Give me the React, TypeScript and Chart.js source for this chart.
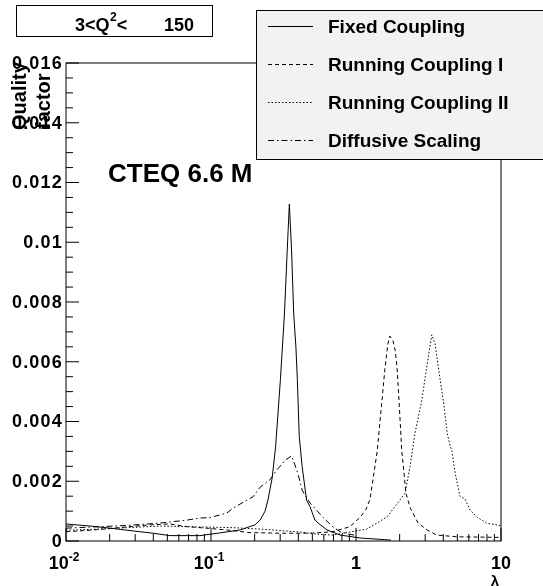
import React, { useEffect, useRef } from 'react';
import { Chart, registerables } from 'chart.js';

Chart.register(...registerables);

const W = 543;
const H = 586;
const FONT = '"Liberation Sans", Arial, Helvetica, sans-serif';

// ---- data (lambda, quality factor) ----
const fixedLambda = [0.01, 0.0147, 0.0201, 0.0299, 0.0398, 0.0521, 0.0839, 0.115, 0.159, 0.201, 0.218, 0.236, 0.247, 0.264, 0.279, 0.301, 0.321, 0.336, 0.347, 0.359, 0.372, 0.385, 0.394, 0.406, 0.425, 0.456, 0.482, 0.521, 0.565, 0.631, 0.776, 1.07, 1.74];
const fixedQ = [0.00057, 0.0005, 0.00043, 0.00033, 0.00026, 0.00018, 0.00018, 0.00027, 0.00037, 0.00054, 0.0007, 0.001, 0.00137, 0.0021, 0.00316, 0.0054, 0.0076, 0.0098, 0.01128, 0.0098, 0.0076, 0.0065, 0.0054, 0.0035, 0.0025, 0.00137, 0.00115, 0.0007, 0.00055, 0.00037, 0.0002, 0.0001, 0.00003];

const rc1Lambda = [0.01, 0.0147, 0.0201, 0.0276, 0.0379, 0.0521, 0.0683, 0.0984, 0.135, 0.186, 0.299, 0.482, 0.693, 0.909, 1.07, 1.17, 1.25, 1.40, 1.51, 1.585, 1.66, 1.71, 1.80, 1.86, 1.92, 1.98, 2.07, 2.14, 2.21, 2.37, 2.68, 3.09, 3.6, 4.97, 7.2, 10];
const rc1Q = [0.00031, 0.00036, 0.00042, 0.00048, 0.00054, 0.00057, 0.00048, 0.00042, 0.00036, 0.00028, 0.00026, 0.00026, 0.00031, 0.00048, 0.0008, 0.00105, 0.0014, 0.003, 0.0047, 0.0058, 0.0066, 0.00686, 0.0067, 0.0064, 0.0058, 0.0047, 0.003, 0.0023, 0.0016, 0.0011, 0.0006, 0.00037, 0.0002, 0.00014, 0.00013, 0.00012];

const rc2Lambda = [0.01, 0.0171, 0.0276, 0.0445, 0.0839, 0.135, 0.218, 0.411, 0.565, 0.693, 0.909, 1.19, 1.63, 1.89, 2.18, 2.36, 2.55, 2.84, 3.07, 3.33, 3.51, 3.70, 4.00, 4.26, 4.45, 4.59, 4.82, 5.21, 5.65, 6.11, 6.82, 8.0, 9.38, 10];
const rc2Q = [0.00036, 0.0004, 0.00045, 0.0005, 0.00047, 0.00045, 0.0004, 0.0003, 0.00022, 0.0002, 0.0003, 0.0004, 0.0008, 0.0012, 0.0016, 0.0025, 0.0036, 0.0047, 0.0058, 0.0069, 0.0066, 0.0058, 0.0047, 0.0036, 0.0032, 0.003, 0.0023, 0.0015, 0.0014, 0.00104, 0.0008, 0.00059, 0.00054, 0.0005];

const dsLambda = [0.01, 0.0171, 0.0264, 0.0445, 0.0683, 0.0839, 0.0984, 0.129, 0.142, 0.177, 0.195, 0.218, 0.255, 0.285, 0.324, 0.360, 0.390, 0.411, 0.425, 0.482, 0.591, 0.693, 0.776, 0.909, 0.97];
const dsQ = [0.00043, 0.00048, 0.00052, 0.0006, 0.0007, 0.00077, 0.00078, 0.00094, 0.0011, 0.00137, 0.00148, 0.0018, 0.00205, 0.00238, 0.0027, 0.00285, 0.00238, 0.002, 0.0017, 0.00127, 0.0008, 0.00047, 0.00031, 0.00022, 0.0002];

const seriesNames = ['Fixed Coupling', 'Running Coupling I', 'Running Coupling II', 'Diffusive Scaling'];
const seriesDashes = [[], [4, 3], [1.5, 2], [6, 3, 1.5, 3]];

const xMajorTicks = [0.01, 0.1, 1, 10];
const xMajorLabels = [['10', '-2'], ['10', '-1'], ['1', ''], ['10', '']];
const yTickValues = [0, 0.002, 0.004, 0.006, 0.008, 0.01, 0.012, 0.014, 0.016];
const yTickLabels = ['0', '0.002', '0.004', '0.006', '0.008', '0.01', '0.012', '0.014', '0.016'];
const yMin = 0;
const yMax = 0.016;
const yMinorStep = 0.0005;

const titleParts = ['3<Q', '2', '<', '150'];
const yTitleLines = ['Quality', 'factor'];
const pdfLabel = 'CTEQ 6.6 M';
const xTitle = 'λ';

const toPoints = (xs: number[], ys: number[]) => xs.map((x, i) => ({ x, y: ys[i] }));

const decorPlugin = {
  id: 'rootDecor',
  afterDraw(chart: any) {
    const ctx = chart.ctx as CanvasRenderingContext2D;
    const { left, right, top, bottom } = chart.chartArea;
    const xs = chart.scales.x;
    const ys = chart.scales.y;
    ctx.save();
    ctx.strokeStyle = '#000';
    ctx.fillStyle = '#000';
    ctx.lineWidth = 1;
    ctx.setLineDash([]);

    // frame
    ctx.strokeRect(left, top, right - left, bottom - top);

    // y ticks (inside)
    const nMinor = Math.round((yMax - yMin) / yMinorStep);
    for (let i = 0; i <= nMinor; i++) {
      const v = yMin + i * yMinorStep;
      const py = ys.getPixelForValue(v);
      const len = i % 4 === 0 ? 13 : 7;
      ctx.beginPath();
      ctx.moveTo(left, py);
      ctx.lineTo(left + len, py);
      ctx.stroke();
    }

    // y labels
    ctx.font = `bold 18px ${FONT}`;
    (ctx as any).letterSpacing = '1.2px';
    ctx.textAlign = 'right';
    ctx.textBaseline = 'middle';
    yTickValues.forEach((v, i) => {
      const py = ys.getPixelForValue(v);
      ctx.fillText(yTickLabels[i], left - 3, py + 1);
    });
    (ctx as any).letterSpacing = '0px';

    // x ticks (inside)
    for (let k = -2; k <= 1; k++) {
      for (let m = 1; m <= 9; m++) {
        const v = m * Math.pow(10, k);
        if (v > 10.0001) break;
        const px = xs.getPixelForValue(v);
        const len = m === 1 ? 13 : 7;
        ctx.beginPath();
        ctx.moveTo(px, bottom);
        ctx.lineTo(px, bottom - len);
        ctx.stroke();
      }
    }

    // x labels
    const baseFont = `bold 18px ${FONT}`;
    const supFont = `bold 12px ${FONT}`;
    ctx.textBaseline = 'alphabetic';
    ctx.textAlign = 'left';
    xMajorTicks.forEach((v, i) => {
      const [b, s] = xMajorLabels[i];
      ctx.font = baseFont;
      const wb = ctx.measureText(b).width;
      ctx.font = supFont;
      const wsup = s ? ctx.measureText(s).width : 0;
      const px = xs.getPixelForValue(v);
      const x0 = px - (wb + wsup) / 2 - (s ? 2 : 0);
      ctx.font = baseFont;
      ctx.fillText(b, x0, bottom + 28);
      if (s) {
        ctx.font = supFont;
        ctx.fillText(s, x0 + wb, bottom + 20);
      }
    });

    // x title
    ctx.font = `bold 15px ${FONT}`;
    ctx.textAlign = 'center';
    ctx.fillText(xTitle, right - 6, bottom + 45);

    // y title (rotated, two lines)
    ctx.font = `bold 20px ${FONT}`;
    ctx.textAlign = 'left';
    const yTitlePos = [[26, 130], [50, 129]];
    yTitleLines.forEach((t, i) => {
      ctx.save();
      ctx.translate(yTitlePos[i][0], yTitlePos[i][1]);
      ctx.rotate(-Math.PI / 2);
      ctx.fillText(t, 0, 0);
      ctx.restore();
    });

    // CTEQ label
    ctx.font = `bold 26px ${FONT}`;
    ctx.fillText(pdfLabel, 108, 182);

    // title box
    ctx.fillStyle = '#fff';
    ctx.fillRect(17, 5, 196, 31);
    ctx.strokeRect(16.5, 5.5, 196, 31);
    ctx.fillStyle = '#000';
    ctx.font = `bold 18px ${FONT}`;
    let tx = 75;
    ctx.fillText(titleParts[0], tx, 30.5);
    tx += ctx.measureText(titleParts[0]).width;
    ctx.font = `bold 12px ${FONT}`;
    ctx.fillText(titleParts[1], tx + 0.5, 21);
    tx += ctx.measureText(titleParts[1]).width + 0.5;
    ctx.font = `bold 18px ${FONT}`;
    ctx.fillText(titleParts[2], tx, 30.5);
    ctx.textAlign = 'right';
    ctx.fillText(titleParts[3], 194, 30.5);
    ctx.textAlign = 'left';

    // legend
    ctx.fillStyle = '#f2f2f2';
    ctx.fillRect(256, 10, 300, 149);
    ctx.strokeRect(256.5, 10.5, 300, 149);
    seriesNames.forEach((name, i) => {
      const cy = 26 + i * 38;
      ctx.strokeStyle = '#000';
      ctx.lineWidth = 1;
      ctx.setLineDash(seriesDashes[i]);
      ctx.beginPath();
      ctx.moveTo(268, cy + 0.5);
      ctx.lineTo(313, cy + 0.5);
      ctx.stroke();
      ctx.setLineDash([]);
      ctx.fillStyle = '#000';
      ctx.font = `bold 19px ${FONT}`;
      ctx.fillText(name, 328, cy + 7);
    });

    ctx.restore();
  },
};

export default function App() {
  const canvasRef = useRef<HTMLCanvasElement | null>(null);

  useEffect(() => {
    const canvas = canvasRef.current;
    if (!canvas) return;
    const series = [
      toPoints(fixedLambda, fixedQ),
      toPoints(rc1Lambda, rc1Q),
      toPoints(rc2Lambda, rc2Q),
      toPoints(dsLambda, dsQ),
    ];
    const chart = new Chart(canvas, {
      type: 'line',
      data: {
        datasets: series.map((pts, i) => ({
          label: seriesNames[i],
          data: pts,
          borderColor: '#000',
          borderWidth: 1,
          borderDash: seriesDashes[i],
          pointRadius: 0,
          fill: false,
          tension: 0,
        })),
      },
      options: {
        animation: false,
        responsive: false,
        devicePixelRatio: 1,
        layout: { padding: { top: 63, right: 42, left: 0, bottom: 0 } },
        plugins: {
          legend: { display: false },
          tooltip: { enabled: false },
          title: { display: false },
        },
        scales: {
          x: {
            type: 'logarithmic',
            min: 0.01,
            max: 10,
            ticks: { display: false },
            grid: { display: false, drawTicks: false },
            border: { display: false },
            afterFit: (s: any) => {
              s.height = 45;
            },
          },
          y: {
            type: 'linear',
            min: yMin,
            max: yMax,
            ticks: { display: false },
            grid: { display: false, drawTicks: false },
            border: { display: false },
            afterFit: (s: any) => {
              s.width = 66;
            },
          },
        },
      } as any,
      plugins: [decorPlugin],
    });
    return () => chart.destroy();
  }, []);

  return (
    <div style={{ position: 'absolute', left: 0, top: 0, width: W, height: H, background: '#fff' }}>
      <canvas ref={canvasRef} width={W} height={H} style={{ display: 'block' }} />
    </div>
  );
}
